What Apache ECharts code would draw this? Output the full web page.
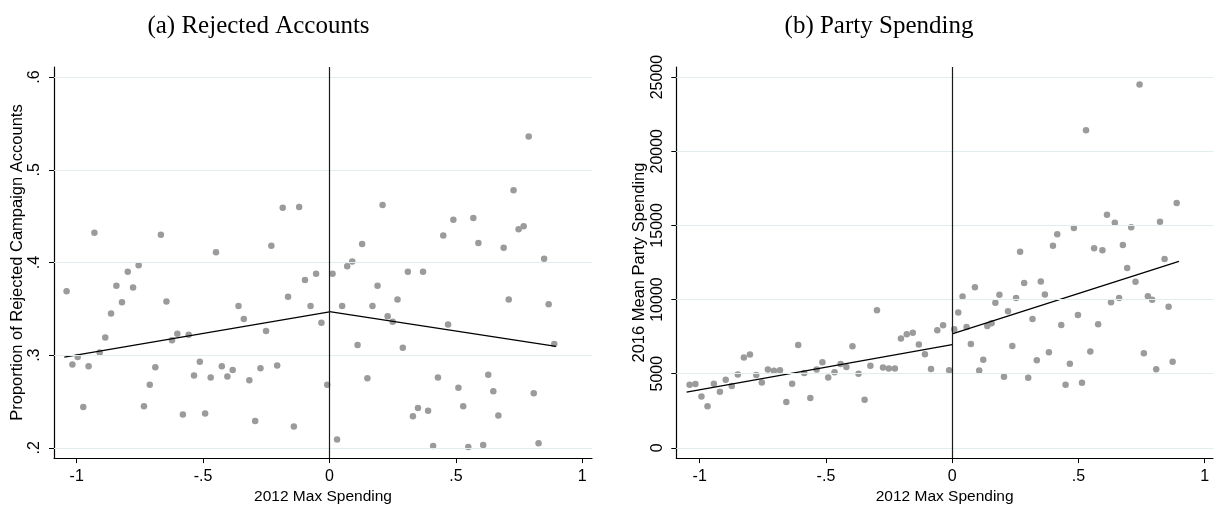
<!DOCTYPE html>
<html>
<head>
<meta charset="utf-8">
<script src="https://cdn.jsdelivr.net/npm/echarts@6/dist/echarts.min.js"></script>
<style>
  html, body { margin: 0; padding: 0; background: #fff; }
  #chart { width: 1214px; height: 510px; }
</style>
</head>
<body>
<div id="chart"></div>
<script>
// Binned scatter: 2012 max spending (running variable) vs. outcomes

// Panel (a): proportion of rejected campaign accounts
const rejX = [-1.040, -1.017, -0.996, -0.974, -0.953, -0.930, -0.909, -0.887, -0.864, -0.843,
  -0.821, -0.798, -0.777, -0.755, -0.734, -0.711, -0.689, -0.667, -0.645, -0.623,
  -0.602, -0.580, -0.557, -0.536, -0.513, -0.492, -0.470, -0.449, -0.426, -0.404,
  -0.383, -0.360, -0.339, -0.317, -0.294, -0.273, -0.251, -0.230, -0.207, -0.185,
  -0.164, -0.141, -0.120, -0.097, -0.075, -0.053, -0.032, -0.009,
  0.012, 0.030, 0.050, 0.070, 0.090, 0.111, 0.129, 0.150, 0.170, 0.190,
  0.210, 0.230, 0.250, 0.269, 0.290, 0.310, 0.330, 0.350, 0.370, 0.390,
  0.410, 0.429, 0.450, 0.469, 0.490, 0.510, 0.529, 0.549, 0.569, 0.589,
  0.608, 0.628, 0.648, 0.668, 0.689, 0.709, 0.728, 0.748, 0.768, 0.788,
  0.808, 0.827, 0.849, 0.867, 0.889];
const rejY = [0.369, 0.290, 0.298, 0.244, 0.288, 0.432, 0.303, 0.319, 0.345, 0.375,
  0.357, 0.390, 0.373, 0.397, 0.245, 0.268, 0.287, 0.430, 0.358, 0.316,
  0.323, 0.236, 0.322, 0.278, 0.293, 0.237, 0.276, 0.411, 0.288, 0.277,
  0.284, 0.353, 0.339, 0.273, 0.229, 0.286, 0.326, 0.418, 0.289, 0.459,
  0.363, 0.223, 0.460, 0.381, 0.353, 0.388, 0.335, 0.268,
  0.388, 0.209, 0.353, 0.396, 0.401, 0.311, 0.420, 0.275, 0.353, 0.375,
  0.462, 0.342, 0.336, 0.360, 0.308, 0.390, 0.234, 0.243, 0.390, 0.240,
  0.202, 0.276, 0.429, 0.333, 0.446, 0.265, 0.245, 0.201, 0.448, 0.421,
  0.203, 0.279, 0.261, 0.235, 0.416, 0.360, 0.478, 0.436, 0.439, 0.536,
  0.259, 0.205, 0.404, 0.355, 0.312];
// Linear fits on each side of the cutoff
const rejFitLeftX = [-1.049, 0];
const rejFitLeftY = [0.298, 0.3467];
const rejFitRightX = [0, 0.896];
const rejFitRightY = [0.347, 0.3096];

// Panel (b): 2016 mean party spending
const spendX = [-1.040, -1.017, -0.993, -0.969, -0.944, -0.920, -0.897, -0.873, -0.849, -0.825,
  -0.801, -0.776, -0.754, -0.730, -0.706, -0.682, -0.657, -0.634, -0.610, -0.586,
  -0.562, -0.537, -0.514, -0.491, -0.466, -0.442, -0.419, -0.395, -0.371, -0.347,
  -0.324, -0.298, -0.274, -0.251, -0.227, -0.203, -0.180, -0.156, -0.132, -0.108,
  -0.084, -0.059, -0.036, -0.012,
  0.008, 0.024, 0.041, 0.057, 0.074, 0.090, 0.107, 0.123, 0.139, 0.156,
  0.171, 0.187, 0.205, 0.221, 0.238, 0.253, 0.269, 0.285, 0.301, 0.318,
  0.335, 0.351, 0.367, 0.383, 0.399, 0.416, 0.432, 0.449, 0.466, 0.482,
  0.498, 0.514, 0.530, 0.547, 0.562, 0.578, 0.595, 0.613, 0.629, 0.644,
  0.661, 0.676, 0.693, 0.709, 0.726, 0.742, 0.759, 0.775, 0.792, 0.808,
  0.823, 0.841, 0.857, 0.873, 0.889];
const spendY = [4264, 4310, 3468, 2805, 4330, 3780, 4595, 4177, 4947, 6100,
  6300, 4907, 4416, 5278, 5192, 5238, 3090, 4330, 6936, 5040,
  3355, 5278, 5769, 4748, 5106, 5656, 5457, 6850, 4993, 3249,
  5543, 9283, 5411, 5345, 5345, 7380, 7665, 7758, 6962, 6319,
  5325, 7931, 8262, 5238,
  7997, 9124, 10212, 8156, 7002, 10829, 5212, 5941, 8222, 8395,
  9787, 10318, 4794, 9217, 6870, 10099, 13216, 11114, 4728, 8687,
  5902, 11226, 10344, 6452, 13634, 14410, 8289, 4264, 5676, 14827,
  8952, 4396, 21418, 6498, 13461, 8329, 13329, 15715, 9814, 15185,
  10099, 13680, 12135, 14873, 11206, 24508, 6386, 10232, 9987, 5305,
  15252, 12732, 9522, 5809, 16511];
const spendFitLeftX = [-1.052, 0];
const spendFitLeftY = [3753, 6963];
const spendFitRightX = [0, 0.898];
const spendFitRightY = [7692, 12572];

// Tick values
const xTicks = [-1, -0.5, 0, 0.5, 1];
const rejTicks = [0.2, 0.3, 0.4, 0.5, 0.6];
const spendTicks = [0, 5000, 10000, 15000, 20000, 25000];

const titles = ['(a) Rejected Accounts', '(b) Party Spending'];
const xName = '2012 Max Spending';
const yNames = ['Proportion of Rejected Campaign Accounts', '2016 Mean Party Spending'];

const zip = (xs, ys) => xs.map((x, i) => [x, ys[i]]);
// Stata-style numbers: drop the leading zero (.5, -.5)
const fmt = v => String(v).replace(/^(-?)0\./, '$1.');

const SANS = "'Liberation Sans', Arial, sans-serif";
const SERIF = "'Liberation Serif', 'Times New Roman', serif";
const DOT = '#9b9b9b';
const GRID = '#e3ecef';

function xAxisFor(gridIndex, min, max) {
  return {
    type: 'value', gridIndex, min, max,
    name: xName, nameLocation: 'middle', nameGap: 25.5,
    nameTextStyle: { fontFamily: SANS, fontSize: 15.5, color: '#000' },
    axisLine: { show: true, onZero: false, lineStyle: { color: '#000', width: 1.2 } },
    axisTick: { show: true, length: 5, customValues: xTicks, lineStyle: { color: '#000', width: 1 } },
    axisLabel: { customValues: xTicks, formatter: fmt, margin: 10, fontFamily: SANS, fontSize: 16, color: '#000' },
    splitLine: { show: false }
  };
}
function yAxisFor(gridIndex, min, max, ticks, name) {
  return {
    type: 'value', gridIndex, min, max,
    name, nameLocation: 'middle', nameGap: 28, nameRotate: 90,
    nameTextStyle: { fontFamily: SANS, fontSize: 16.5, color: '#000' },
    axisLine: { show: true, onZero: false, lineStyle: { color: '#000', width: 1.2 } },
    axisTick: { show: true, length: 5, customValues: ticks, lineStyle: { color: '#000', width: 1 } },
    axisLabel: { customValues: ticks, formatter: fmt, rotate: 90, margin: 11, fontFamily: SANS, fontSize: 16, color: '#000' },
    splitLine: { show: false }
  };
}

// Horizontal grid lines at the y ticks
function gridSeries(axisIndex, ticks) {
  return {
    type: 'line', xAxisIndex: axisIndex, yAxisIndex: axisIndex, data: [], z: 1, silent: true,
    markLine: {
      silent: true, symbol: 'none', label: { show: false },
      lineStyle: { color: GRID, width: 1.2, type: 'solid' },
      data: ticks.map(t => ({ yAxis: t }))
    }
  };
}
function scatterSeries(axisIndex, pts) {
  return {
    type: 'scatter', xAxisIndex: axisIndex, yAxisIndex: axisIndex, data: pts, z: 3,
    symbol: 'circle', symbolSize: 6.5, itemStyle: { color: DOT, opacity: 1 }
  };
}
function fitSeries(axisIndex, pts, withCutoff) {
  const s = {
    type: 'line', xAxisIndex: axisIndex, yAxisIndex: axisIndex, data: pts, z: 4,
    showSymbol: false, symbol: 'none', lineStyle: { color: '#000', width: 1.3 }, silent: true
  };
  if (withCutoff) {
    s.markLine = {
      silent: true, symbol: 'none', label: { show: false },
      lineStyle: { color: '#1a1a1a', width: 1.2, type: 'solid' },
      data: [{ xAxis: 0 }]
    };
  }
  return s;
}

const chart = echarts.init(document.getElementById('chart'), null, { renderer: 'canvas' });
chart.setOption({
  animation: false,
  backgroundColor: '#fff',
  graphic: [
    { type: 'text', x: 258.5, y: 26.5, style: { text: titles[0], font: '25px ' + SERIF, fill: '#000', textAlign: 'center', textVerticalAlign: 'middle' } },
    { type: 'text', x: 879, y: 26.5, style: { text: titles[1], font: '25px ' + SERIF, fill: '#000', textAlign: 'center', textVerticalAlign: 'middle' } }
  ],
  grid: [
    { left: 54, top: 67, width: 538, height: 397.7, containLabel: false },
    { left: 676.3, top: 67, width: 536.7, height: 397.7, containLabel: false }
  ],
  xAxis: [
    xAxisFor(0, -1.0898, 1.0384),
    xAxisFor(1, -1.0927, 1.0329)
  ],
  yAxis: [
    yAxisFor(0, 0.18897, 0.61093, rejTicks, yNames[0]),
    yAxisFor(1, -690, 25682, spendTicks, yNames[1])
  ],
  series: [
    gridSeries(0, rejTicks),
    scatterSeries(0, zip(rejX, rejY)),
    fitSeries(0, zip(rejFitLeftX, rejFitLeftY), true),
    fitSeries(0, zip(rejFitRightX, rejFitRightY), false),
    gridSeries(1, spendTicks),
    scatterSeries(1, zip(spendX, spendY)),
    fitSeries(1, zip(spendFitLeftX, spendFitLeftY), true),
    fitSeries(1, zip(spendFitRightX, spendFitRightY), false)
  ]
});
</script>
</body>
</html>
